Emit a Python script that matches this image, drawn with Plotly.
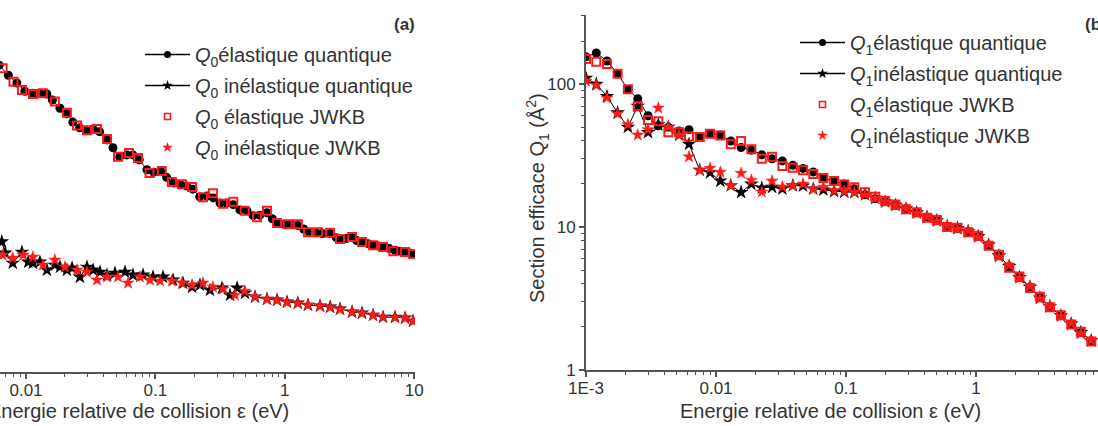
import plotly.graph_objects as go

# ---------------- Panel (a): Q0 ----------------
a_el_q_E = [0.0062, 0.0073, 0.0085, 0.0098, 0.0113, 0.0128, 0.0145, 0.016, 0.0183, 0.0207, 0.023, 0.026,
            0.0296, 0.033, 0.037, 0.0423, 0.047, 0.053, 0.06, 0.067, 0.075, 0.086, 0.097, 0.11, 0.122,
            0.138, 0.155, 0.175, 0.195, 0.22, 0.25, 0.28, 0.316, 0.355, 0.4, 0.45, 0.51, 0.57, 0.64,
            0.728, 0.8, 0.885, 1.0, 1.13, 1.26, 1.4, 1.55, 1.75, 1.95, 2.24, 2.5, 2.7, 3.0, 3.3, 3.6,
            3.95, 4.4, 4.8, 5.3, 5.8, 6.4, 7.1, 7.8, 8.5, 9.2, 10.0]
a_el_q_Q = [140, 119, 105, 92, 89, 89, 88, 80, 70, 64, 56, 51,
            49, 50, 48, 42, 37, 32, 33, 33, 30.5, 26, 25, 25.5, 23,
            21, 20.6, 20, 19, 16.8, 17, 16.5, 15.2, 15.2, 14.8, 13.6, 13.4, 12.4, 12.5,
            13.0, 11.8, 11.0, 10.8, 10.8, 10.6, 10.0, 9.5, 9.4, 9.3, 9.3, 8.7, 8.5, 8.6, 8.8, 8.3,
            8.1, 7.9, 7.7, 7.6, 7.5, 7.3, 7.1, 7.0, 6.9, 6.8, 6.7]

a_in_q_E = [0.0065, 0.0069, 0.0079, 0.0093, 0.0104, 0.0113, 0.0128, 0.0145, 0.0167, 0.0183, 0.0207,
            0.0227, 0.0261, 0.0296, 0.033, 0.0373, 0.0423, 0.0487, 0.0582, 0.0671, 0.0802, 0.0958,
            0.1145, 0.1368, 0.1634, 0.192, 0.221, 0.264, 0.327, 0.377, 0.428, 0.492, 0.589, 0.728,
            0.871, 1.04, 1.26, 1.51, 1.87, 2.24, 2.67, 3.31, 3.95, 4.81, 5.74, 7.11, 8.5, 9.8]
a_in_q_Q = [8.15, 6.8, 5.78, 6.9, 5.88, 5.78, 5.88, 5.17, 5.6, 5.42, 5.17,
            5.34, 4.62, 5.42, 5.17, 5.0, 4.77, 4.92, 5.0, 4.77, 4.77, 4.62,
            4.62, 4.4, 4.19, 3.93, 4.06, 3.74, 3.87, 3.45, 3.87, 3.57, 3.35, 3.24,
            3.19, 3.09, 3.04, 2.94, 2.9, 2.85, 2.76, 2.63, 2.59, 2.5, 2.42, 2.42, 2.39, 2.27]

a_el_j_E = [0.0066, 0.008, 0.0093, 0.0113, 0.0135, 0.0167, 0.0207, 0.0248, 0.0296, 0.0354, 0.0423,
            0.0514, 0.0625, 0.0734, 0.09, 0.112, 0.134, 0.16, 0.192, 0.233, 0.278, 0.333, 0.4, 0.49,
            0.61, 0.728, 0.871, 1.05, 1.26, 1.51, 1.81, 2.24, 2.67, 3.31, 3.95, 4.81, 5.74, 6.9, 8.5, 9.8]
a_el_j_Q = [133, 107, 94, 88, 89, 78, 65, 53, 49, 50, 42.6,
            32, 34, 31.4, 24.7, 25.5, 21.3, 20.6, 19.7, 16.7, 17.8, 15.0, 15.5, 13.4,
            12.1, 13.4, 11.0, 10.8, 10.8, 9.5, 9.5, 9.4, 8.5, 8.8, 8.1, 7.7, 7.5, 7.0, 6.9, 6.7]

a_in_j_E = [0.0066, 0.0079, 0.0095, 0.0113, 0.0135, 0.0167, 0.02, 0.0248, 0.0296, 0.0354, 0.0423,
            0.0514, 0.0614, 0.076, 0.0907, 0.1086, 0.134, 0.1605, 0.192, 0.233, 0.278, 0.333, 0.412,
            0.49, 0.589, 0.728, 0.871, 1.04, 1.26, 1.51, 1.87, 2.24, 2.67, 3.31, 3.95, 4.81, 5.74,
            7.11, 8.5, 9.8]
a_in_j_Q = [6.58, 6.27, 6.58, 6.37, 5.6, 6.07, 5.42, 5.17, 5.0, 4.4, 4.62,
            4.62, 4.19, 4.62, 4.4, 4.33, 4.33, 4.19, 4.06, 4.19, 3.93, 3.8, 3.45,
            3.68, 3.35, 3.22, 3.17, 3.07, 3.02, 2.94, 2.88, 2.83, 2.74, 2.63, 2.57, 2.5, 2.42,
            2.4, 2.37, 2.27]

# ---------------- Panel (b): Q1 ----------------
b_E = [0.001, 0.0012, 0.00145, 0.00175, 0.0021, 0.0025, 0.003, 0.0036, 0.0043, 0.0052, 0.0062,
       0.0075, 0.009, 0.0108, 0.013, 0.0156, 0.0187, 0.0225, 0.027, 0.0324, 0.039, 0.0467, 0.056,
       0.067, 0.081, 0.097, 0.116, 0.14, 0.168, 0.2, 0.24, 0.29, 0.35, 0.42, 0.5, 0.6, 0.72, 0.87,
       1.04, 1.25, 1.5, 1.8, 2.16, 2.6, 3.1, 3.7, 4.5, 5.4, 6.4, 7.7]
b_el_q = [155, 165, 145, 118, 92, 79, 60, 51, 50, 47, 48,
          43, 45, 44, 40, 36, 34.5, 32, 30, 29, 27, 25.7, 24.3,
          22, 21, 20, 18.5, 16.8, 15.8, 15.0, 14.2, 13.4, 12.6, 11.7, 11.1, 10.1, 9.8, 9.3,
          8.6, 7.5, 6.3, 5.3, 4.45, 3.8, 3.2, 2.78, 2.4, 2.1, 1.83, 1.6]
b_in_q = [110, 100, 82, 63, 50, 70, 46, 52, 50, 44, 38,
          25, 24, 21, 19.5, 17.5, 20, 18.8, 19, 18.5, 19.5, 19.4, 18.5,
          18.2, 17.8, 17.6, 17.5, 16.9, 15.9, 15.0, 14.2, 13.4, 12.6, 11.7, 11.1, 10.1, 9.8, 9.3,
          8.6, 7.5, 6.3, 5.3, 4.45, 3.8, 3.2, 2.78, 2.4, 2.1, 1.83, 1.6]
b_el_j = [150, 143, 138, 118, 92, 70, 56, 55, 46, 46, 43,
          42.6, 45, 43.6, 38, 40, 35, 30, 31, 26.7, 26, 25, 23.5,
          22, 21, 19.8, 19, 17.5, 16.3, 15.2, 14.4, 13.3, 12.7, 11.6, 11.2, 10.0, 9.9, 9.2,
          8.7, 7.4, 6.4, 5.2, 4.5, 3.75, 3.25, 2.75, 2.42, 2.08, 1.85, 1.58]
b_in_j = [105, 98, 80, 62, 52, 44, 48, 68, 50, 44, 31,
          25, 25.8, 24.2, 19.5, 23.8, 21.3, 17.6, 21, 19.1, 19.5, 20, 18.4,
          19, 18, 17.8, 17.5, 16.8, 16.0, 15.1, 14.3, 13.5, 12.5, 11.8, 11.0, 10.2, 9.7, 9.4,
          8.5, 7.6, 6.2, 5.4, 4.4, 3.85, 3.15, 2.8, 2.38, 2.12, 1.8, 1.62]

x_tick_vals = [0.001, 0.01, 0.1, 1, 10]
x_tick_text = ["1E-3", "0.01", "0.1", "1", "10"]
y_tick_vals = [1, 10, 100]
y_tick_text = ["1", "10", "100"]

FONT = "Liberation Sans, Arial, sans-serif"
TXT = "#333333"
AX = "#555555"
RED = "#ff1a1a"

W, H = 1098, 426


def px(v):
    return v / W


def py(v):
    return (H - v) / H


fig = go.Figure()

STYLES = [
    ("élastique quantique", "lines+markers", dict(symbol="circle", size=9, color="black"),
     dict(symbol="circle", size=7, color="black")),
    ("inélastique quantique", "lines+markers", dict(symbol="star", size=11, color="black"),
     dict(symbol="star", size=8, color="black")),
    ("élastique JWKB", "markers",
     dict(symbol="square-open", size=8, color=RED, line=dict(width=2, color=RED)),
     dict(symbol="square-open", size=6, color=RED, line=dict(width=1.6, color=RED))),
    ("inélastique JWKB", "markers",
     dict(symbol="star", size=9, color=RED, line=dict(width=0.5, color=RED)),
     dict(symbol="star", size=7, color=RED, line=dict(width=0.5, color=RED))),
]


def add_set(series, sub, space, xa, ya, leg):
    sp = " " if space else ""
    q = "<i>Q</i><sub>%s</sub>" % sub
    for (E, Q), (label, mode, mk, mk_leg) in zip(series, STYLES):
        fig.add_trace(go.Scatter(x=E, y=Q, mode=mode, xaxis=xa, yaxis=ya, showlegend=False,
                                 line=dict(color="black", width=1), marker=mk))
    for i, (label, mode, mk, mk_leg) in enumerate(STYLES):
        name = q + (sp if i > 0 else "") + label
        fig.add_trace(go.Scatter(x=[None], y=[None], mode=mode, xaxis=xa, yaxis=ya,
                                 legend=leg, legendgroup=leg + str(i), name=name,
                                 line=dict(color="black", width=1.5), marker=mk_leg))


add_set([(a_el_q_E, a_el_q_Q), (a_in_q_E, a_in_q_Q), (a_el_j_E, a_el_j_Q), (a_in_j_E, a_in_j_Q)],
        "0", True, "x", "y", "legend")
add_set([(b_E, b_el_q), (b_E, b_in_q), (b_E, b_el_j), (b_E, b_in_j)],
        "1", False, "x2", "y2", "legend2")

minor_x = [m * 10.0 ** e for e in range(-4, 2) for m in range(2, 10)]
minor_y = [m * 10.0 ** e for e in range(0, 3) for m in range(2, 10)]

xcommon = dict(type="log", showgrid=False, zeroline=False, showline=True, linecolor=AX, linewidth=2,
               ticks="outside", ticklen=5, tickwidth=1.5, tickcolor=AX,
               tickmode="array", tickvals=x_tick_vals, ticktext=x_tick_text,
               tickfont=dict(family=FONT, size=17, color=TXT), ticklabelstandoff=-3,
               minor=dict(tickvals=minor_x, ticks="outside", ticklen=3, tickwidth=1.2, tickcolor=AX,
                          showgrid=False),
               automargin=False)

legcommon = dict(xanchor="left", yanchor="top", bgcolor="rgba(0,0,0,0)",
                 font=dict(family=FONT, size=20, color=TXT), tracegroupgap=2,
                 traceorder="grouped", itemsizing="trace", itemwidth=45)

fig.update_layout(
    width=W, height=H,
    margin=dict(l=0, r=0, t=0, b=0),
    paper_bgcolor="white", plot_bgcolor="white",
    font=dict(family=FONT, color=TXT),
    xaxis=dict(domain=[0, px(415)], range=[-2.201, 1.006], anchor="y", **xcommon),
    yaxis=dict(domain=[py(372), py(15)], type="log", range=[0, 2.497], visible=False,
               anchor="x"),
    xaxis2=dict(domain=[px(586), 1.0], range=[-3, -3 + (W - 586) / 130.0], anchor="y2", **xcommon),
    yaxis2=dict(domain=[py(370), py(15)], type="log", range=[0, 2.483], anchor="x2",
                showgrid=False, zeroline=False, showline=True, linecolor=AX, linewidth=2,
                ticks="outside", ticklen=5, tickwidth=1.5, tickcolor=AX,
                tickmode="array", tickvals=y_tick_vals, ticktext=y_tick_text,
                tickfont=dict(family=FONT, size=17, color=TXT),
                minor=dict(tickvals=minor_y, ticks="outside", ticklen=3, tickwidth=1.2,
                           tickcolor=AX, showgrid=False),
                automargin=False),
    legend=dict(x=px(140), y=py(35), **legcommon),
    legend2=dict(x=px(795), y=py(23), **legcommon),
    showlegend=True,
)

ann_font = dict(family=FONT, size=20, color=TXT)
fig.add_annotation(text="Energie relative de collision ε (eV)", xref="paper", yref="paper",
                   x=px(138), y=py(411), xanchor="center", yanchor="middle", showarrow=False,
                   font=ann_font)
fig.add_annotation(text="Energie relative de collision ε (eV)", xref="paper", yref="paper",
                   x=px(830), y=py(411), xanchor="center", yanchor="middle", showarrow=False,
                   font=ann_font)
fig.add_annotation(text="Section efficace Q<sub>1</sub> (Å<sup>2</sup>)", xref="paper", yref="paper",
                   x=px(537), y=py(198), xanchor="center", yanchor="middle", showarrow=False,
                   textangle=-90, font=ann_font)
fig.add_annotation(text="<b>(a)</b>", xref="paper", yref="paper", x=px(417), y=py(25),
                   xanchor="right", yanchor="middle", showarrow=False,
                   font=dict(family=FONT, size=17, color=TXT))
fig.add_annotation(text="<b>(b)</b>", xref="paper", yref="paper", x=px(1083), y=py(25),
                   xanchor="left", yanchor="middle", showarrow=False,
                   font=dict(family=FONT, size=17, color=TXT))

fig.write_html("out.html")
